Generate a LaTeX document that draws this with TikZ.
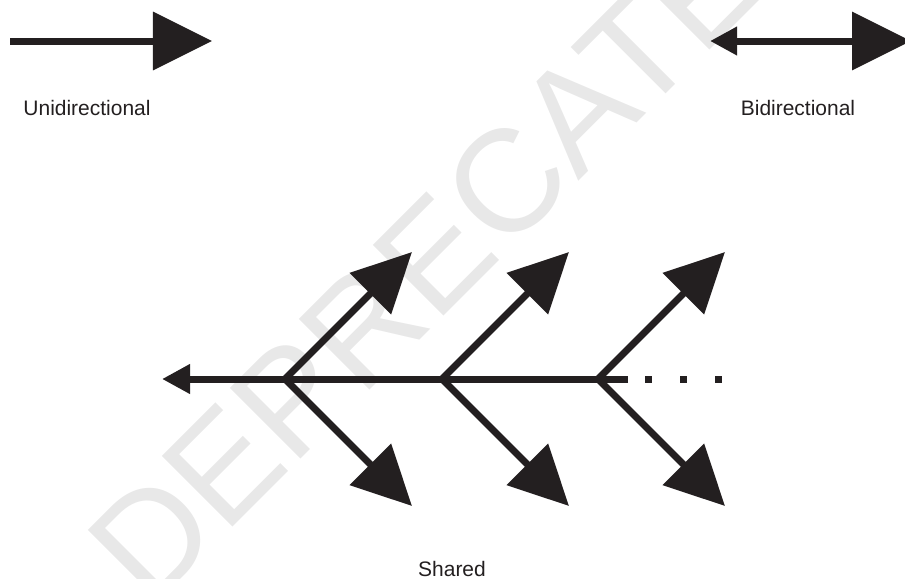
\documentclass[tikz,border=0pt]{standalone}
\usepackage{fontspec}
\setmainfont{Liberation Sans}
\usepackage{tikz}
\usetikzlibrary{arrows.meta}
\definecolor{inkblack}{HTML}{231F20}
\tikzset{
  conn/.style={draw=inkblack,color=inkblack,line width=0.21cm},
  bighead/.style={-{Triangle[length=1.77cm,width=1.71cm]}},
  smallhead/.style={-{Triangle[length=0.84cm,width=0.84cm]}},
  bothheads/.style={{Triangle[length=0.81cm,width=0.81cm]}-{Triangle[length=1.77cm,width=1.71cm]}},
  dotline/.style={draw=inkblack,line width=0.21cm,dash pattern=on 0.21cm off 0.84cm},
  lbl/.style={inner sep=0pt,text=inkblack,font=\fontsize{17.9}{20}\selectfont},
  wmark/.style={inner sep=0pt,text=black!9,rotate=45,anchor=base west,font=\fontsize{124}{124}\selectfont}
}
\begin{document}
\begin{tikzpicture}[x=0.03cm,y=-0.03cm]
\useasboundingbox (0,0) rectangle (905,578);
% watermark
\node[wmark] (wm) at (150,610) {DEPRECATED};
% unidirectional
\coordinate (u1) at (10,41);
\coordinate (u2) at (212,41);
\draw[conn,bighead] (u1) -- (u2);
\node[lbl] (uni) at (87,108) {Unidirectional};
% bidirectional
\coordinate (b1) at (710,41);
\coordinate (b2) at (911,41);
\draw[conn,bothheads] (b1) -- (b2);
\node[lbl] (bi) at (798,108) {Bidirectional};
% shared
\coordinate (me) at (628,379);
\coordinate (lt) at (162,379);
\draw[conn,smallhead] (me) -- (lt);
\coordinate (d1) at (645,379);
\coordinate (d2) at (722,379);
\draw[dotline] (d1) -- (d2);
\foreach \n/\x in {1/285,2/442,3/598}{
  \coordinate (j\n) at (\x,379);
  \coordinate (up\n) at (\x+127,252);
  \coordinate (dn\n) at (\x+127,506);
  \draw[conn,bighead] (j\n) -- (up\n);
  \draw[conn,bighead] (j\n) -- (dn\n);
}
\node[lbl] (shared) at (452,569) {Shared};
\end{tikzpicture}
\end{document}
